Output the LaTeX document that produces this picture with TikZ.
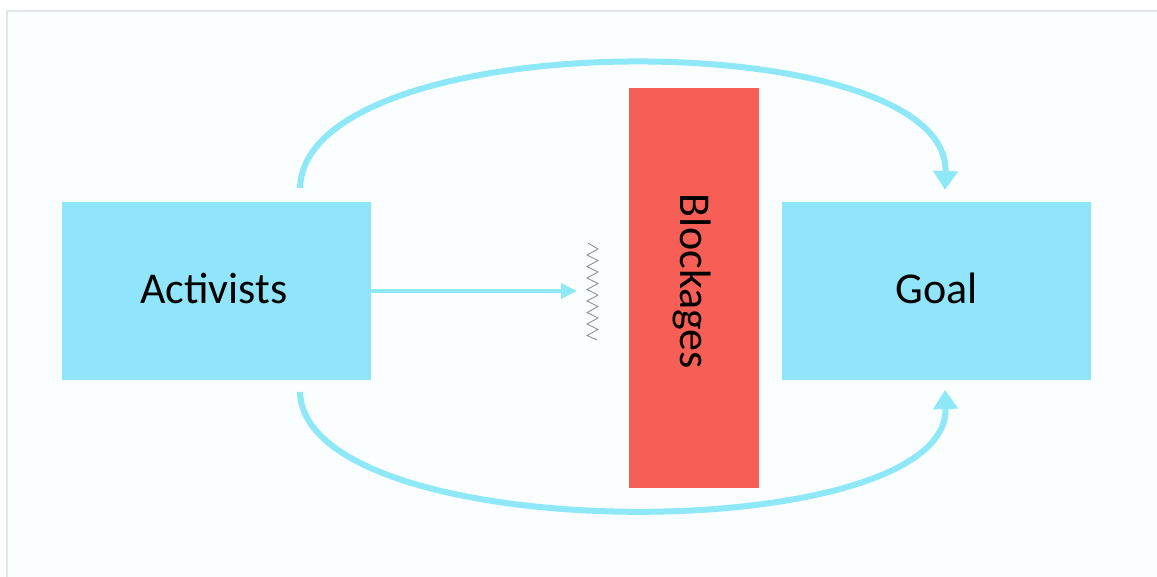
\documentclass[tikz,border=0pt]{standalone}
\usepackage{fontspec}
\setmainfont{Carlito}
\usetikzlibrary{arrows.meta}
\definecolor{boxblue}{HTML}{91E5FB}
\definecolor{arrowblue}{HTML}{8EE8F8}
\definecolor{blockred}{HTML}{F75F56}
\definecolor{bgpale}{HTML}{FAFEFE}
\definecolor{framegray}{HTML}{E4E6E6}
\definecolor{zzgray}{HTML}{8A8A8A}
\tikzset{
  bluebox/.style={fill=boxblue, draw=none, minimum width=309pt, minimum height=178pt, inner sep=0pt},
  bigtext/.style={font=\fontsize{44}{50}\selectfont, inner sep=0pt},
  redbox/.style={fill=blockred, draw=none, minimum width=130pt, minimum height=400pt, inner sep=0pt},
  bigarc/.style={draw=arrowblue, line width=6pt, -{Triangle[width=24pt,length=19pt]}},
  smallarrow/.style={draw=arrowblue, line width=3.5pt, -{Triangle[width=15pt,length=16pt]}},
}
\begin{document}
\begin{tikzpicture}[x=1pt,y=-1pt]
\useasboundingbox (0,0) rectangle (1157,577);
\fill[white] (0,0) rectangle (1157,577);
\fill[bgpale] (7,11) rectangle (1157,577);
\draw[framegray, line width=2pt] (7,577) -- (7,11) -- (1157,11);
\node[bluebox] (act) at (216.5,291) {};
\node[bluebox] (goal) at (936.5,291) {};
\node[bigtext] (acttxt) at (214,288) {Activists};
\node[bigtext] (goaltxt) at (936.5,288) {Goal};
\node[redbox] (block) at (694,288) {};
\node[bigtext, rotate=-90] (blocktxt) at (692,281) {Blockages};
\coordinate (tipA) at (577,291);
\draw[smallarrow] (act.east |- tipA) -- (tipA);
\draw[zzgray, line width=0.8pt] (588,243)
  \foreach \i in {0,...,7} { -- ({598},{249+\i*11.5}) -- ({587},{255+\i*11.5}) } -- (597,340);
\coordinate (ua) at (300,188);
\coordinate (ub) at (945,190);
\draw[bigarc] (ua) .. controls (305,22) and (950,22) .. (ub);
\coordinate (la) at (300,392);
\coordinate (lb) at (945,390);
\draw[bigarc] (la) .. controls (305,549) and (950,549) .. (lb);
\end{tikzpicture}
\end{document}
